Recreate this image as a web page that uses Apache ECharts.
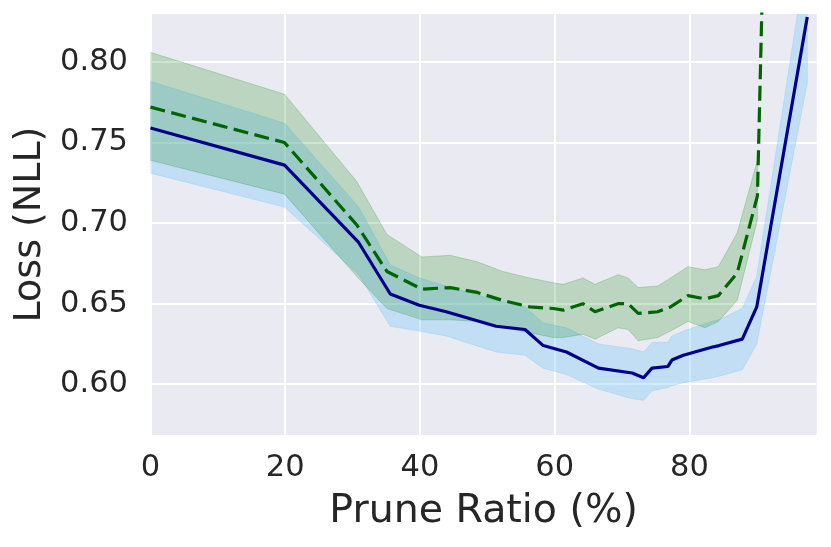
<!DOCTYPE html>
<html>
<head>
<meta charset="utf-8">
<script src="https://cdn.jsdelivr.net/npm/echarts@6/dist/echarts.min.js"></script>
<style>
html,body{margin:0;padding:0;background:#fff;}
#chart{width:831px;height:547px;}
</style>
</head>
<body>
<div id="chart"></div>
<script>
// Blue (solid) series
const xsBlue    = [0, 19.9, 30.9, 35.6, 39.9, 43.9, 51.3, 55.6, 58.3, 61.75, 66.5, 71.5, 73.2, 74.45, 76.8, 77.4, 79.1, 83.3, 84.4, 87.85, 90.0, 97.5];
const meanBlue  = [0.759, 0.736, 0.688, 0.656, 0.649, 0.645, 0.636, 0.634, 0.624, 0.620, 0.610, 0.607, 0.604, 0.610, 0.611, 0.615, 0.618, 0.623, 0.624, 0.628, 0.648, 0.828];
const upperBlue = [0.788, 0.762, 0.710, 0.674, 0.666, 0.661, 0.652, 0.648, 0.638, 0.635, 0.625, 0.622, 0.620, 0.626, 0.626, 0.630, 0.633, 0.639, 0.640, 0.647, 0.667, 0.869];
const lowerBlue = [0.731, 0.710, 0.668, 0.636, 0.633, 0.630, 0.620, 0.618, 0.610, 0.606, 0.597, 0.591, 0.590, 0.596, 0.598, 0.599, 0.601, 0.604, 0.605, 0.609, 0.625, 0.787];

// Green (dashed) series
const xsGreen    = [0, 19.9, 30.6, 35.1, 40.3, 44.5, 48.5, 52.3, 56.3, 59.8, 61.3, 64.2, 66.0, 69.4, 70.9, 72.4, 75.3, 77.2, 79.8, 82.3, 84.3, 87.1, 90.1, 91.6];
const meanGreen  = [0.772, 0.750, 0.699, 0.670, 0.659, 0.660, 0.657, 0.652, 0.648, 0.647, 0.646, 0.650, 0.645, 0.650, 0.650, 0.644, 0.645, 0.648, 0.655, 0.653, 0.655, 0.669, 0.717, 0.98];
const upperGreen = [0.806, 0.780, 0.726, 0.693, 0.679, 0.680, 0.676, 0.670, 0.666, 0.663, 0.662, 0.666, 0.662, 0.668, 0.666, 0.660, 0.661, 0.666, 0.673, 0.671, 0.673, 0.694, 0.739];
const lowerGreen = [0.739, 0.718, 0.667, 0.647, 0.640, 0.640, 0.639, 0.635, 0.632, 0.629, 0.629, 0.631, 0.628, 0.635, 0.634, 0.627, 0.629, 0.633, 0.639, 0.635, 0.639, 0.652, 0.702];

// Axis ticks
const xTicks = [0, 20, 40, 60, 80];
const yTicks = [0.60, 0.65, 0.70, 0.75, 0.80];
const xTitle = 'Prune Ratio (%)';
const yTitle = 'Loss (NLL)';

const FONT = 'DejaVu Sans';
const TXT = '#262626';

function pairs(xs, ys) { return ys.map((y, i) => [xs[i], y]); }

const blueFill = 'rgba(135,206,250,0.4)';
const greenFill = 'rgba(0,128,0,0.2)';

function bandSeries(xs, up, lo, color, z) {
  return {
    type: 'custom', clip: true, z: z, silent: true,
    data: [[xs[0], lo[0]]],
    renderItem: function (params, api) {
      const pts = [];
      for (let i = 0; i < lo.length; i++) pts.push(api.coord([xs[i], up[i]]));
      for (let i = lo.length - 1; i >= 0; i--) pts.push(api.coord([xs[i], lo[i]]));
      const cs = params.coordSys;
      return {
        type: 'group',
        clipPath: {type: 'rect', shape: {x: cs.x, y: cs.y, width: cs.width, height: cs.height}},
        children: [{
          type: 'polygon',
          shape: {points: pts},
          style: {fill: color, stroke: color, lineWidth: 1}
        }]
      };
    }
  };
}

const chart = echarts.init(document.getElementById('chart'), null, {renderer: 'canvas'});
chart.setOption({
  animation: false,
  backgroundColor: '#ffffff',
  grid: {left: 150.5, right: 14.3, top: 14, bottom: 112, show: true, backgroundColor: '#eaeaf2', borderWidth: 0},
  xAxis: {
    type: 'value', min: 0, max: 98.9,
    name: xTitle, nameLocation: 'middle', nameGap: 57,
    nameTextStyle: {fontFamily: FONT, fontSize: 39.5, color: TXT},
    axisLine: {show: false}, axisTick: {show: false, customValues: xTicks},
    axisLabel: {customValues: xTicks, fontFamily: FONT, fontSize: 30.5, color: TXT, margin: 18},
    splitLine: {show: true, lineStyle: {color: '#ffffff', width: 2}}
  },
  yAxis: {
    type: 'value', min: 0.5685, max: 0.8298,
    name: yTitle, nameLocation: 'middle', nameGap: 101, nameRotate: 90,
    nameTextStyle: {fontFamily: FONT, fontSize: 38, color: TXT},
    axisLine: {show: false}, axisTick: {show: false, customValues: yTicks},
    axisLabel: {customValues: yTicks, fontFamily: FONT, fontSize: 30.5, color: TXT, margin: 22.5,
                formatter: v => v.toFixed(2)},
    splitLine: {show: true, lineStyle: {color: '#ffffff', width: 2}}
  },
  series: [
    bandSeries(xsBlue, upperBlue, lowerBlue, blueFill, 2),
    bandSeries(xsGreen, upperGreen, lowerGreen, greenFill, 3),
    {type: 'line', data: pairs(xsBlue, meanBlue), symbol: 'none',
     lineStyle: {color: '#00008b', width: 3.2}, z: 4},
    {type: 'line', data: pairs(xsGreen, meanGreen), symbol: 'none',
     lineStyle: {color: '#006400', width: 3.2, type: [15, 6.5]}, z: 5}
  ]
});
</script>
</body>
</html>
